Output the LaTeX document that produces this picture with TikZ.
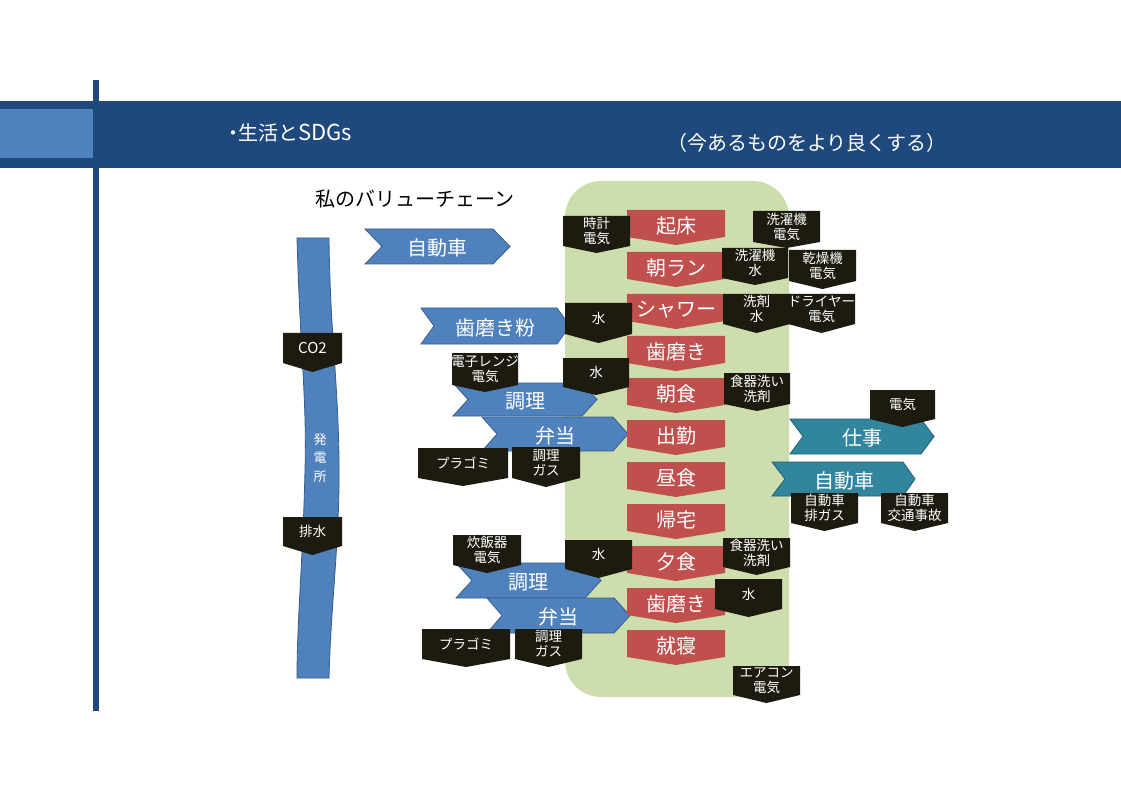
\documentclass[tikz,border=0pt]{standalone}
\usepackage{fontspec}
\setmainfont{Noto Sans CJK JP}
\definecolor{hdrblue}{HTML}{1F497D}
\definecolor{ltblue}{HTML}{4F81BD}
\definecolor{bordblue}{HTML}{385D8A}
\definecolor{bggreen}{HTML}{CEDDAE}
\definecolor{sdred}{HTML}{C0504D}
\definecolor{sdteal}{HTML}{31859C}
\definecolor{bordteal}{HTML}{215F70}
\definecolor{sdblack}{HTML}{1D1B10}
\tikzset{
  redshape/.style={fill=sdred},
  redtext/.style={text=white, inner sep=0, yshift=-2pt, font=\fontsize{20}{24}\selectfont},
  blkshape/.style={fill=sdblack},
  blktext/.style={text=white, inner sep=0, align=center, font=\fontsize{13.5}{15}\selectfont},
  blueshape/.style={fill=ltblue, draw=bordblue, line width=0.8pt},
  bluetext/.style={text=white, inner sep=0, yshift=-1.5pt, font=\fontsize{20}{24}\selectfont},
  tealshape/.style={fill=sdteal, draw=bordteal, line width=0.8pt},
  tealtext/.style={text=white, inner sep=0, yshift=-1.5pt, font=\fontsize{20}{24}\selectfont},
  hdrtext/.style={text=white, inner sep=0, anchor=west, font=\fontsize{20}{24}\selectfont},
}
% pentagon pointing down: name, x1, ytop, x2, yside, ytip, kind, text
\newcommand{\pdn}[8]{%
  \path[#7shape] (#2,#3) -- (#4,#3) -- (#4,#5) -- ({(#2+#4)/2},#6) -- (#2,#5) -- cycle;
  \node[#7text] (#1) at ({(#2+#4)/2},{(#3+#5)/2}) {#8};}
% chevron pointing right: name, xleft, xnotch, xflat, xtip, ytop, ybot, kind, text
\newcommand{\chev}[9]{%
  \path[#8shape] (#2,#6) -- (#4,#6) -- (#5,{(#6+#7)/2}) -- (#4,#7) -- (#2,#7) -- (#3,{(#6+#7)/2}) -- cycle;
  \node[#8text] (#1) at ({(#3+#4)/2},{(#6+#7)/2}) {#9};}
\begin{document}
\begin{tikzpicture}[x=1pt,y=-1pt]
\useasboundingbox[fill=white] (0,0) rectangle (1121,791);
% header
\fill[hdrblue] (0,101) rectangle (1121,168);
\fill[ltblue] (0,109) rectangle (93,158);
\fill[hdrblue] (93,80) rectangle (99,711);
\node[hdrtext] (title) at (229,133) {\hbox to 9pt{\hss ・\hss}生活と{\fontsize{22}{24}\selectfont SDGs}};
\node[hdrtext] (subtitle) at (667,143) {（今あるものをより良くする）};
\node[inner sep=0, font=\fontsize{20}{24}\selectfont] (vc) at (415,199) {私のバリューチェーン};
% green panel
\fill[bggreen, rounded corners=36pt] (565,181) rectangle (789,697);
% power plant band
\path[blueshape] (297,238) .. controls (300,350) and (307,400) .. (305,470)
  .. controls (303,560) and (297,620) .. (297,678) -- (329,678)
  .. controls (331,600) and (340,540) .. (339,460)
  .. controls (338,380) and (330,330) .. (329,238) -- cycle;
\node[text=white, inner sep=0, align=center, font=\fontsize{13}{18.5}\selectfont] (plant) at (320,458) {発\\電\\所};
% blue chevrons
\chev{c1}{365}{382}{493}{510}{229}{264}{blue}{自動車}
\chev{c2}{421}{434}{557}{570}{308}{344}{blue}{歯磨き粉}
\chev{c3}{453}{468}{582}{597}{383}{416}{blue}{調理}
\chev{c4}{482}{497}{613}{628}{417}{451}{blue}{弁当}
\chev{c5}{456}{472}{585}{601}{563}{598}{blue}{調理}
\chev{c6}{487}{502}{614}{630}{598}{633}{blue}{弁当}
% red daily column
\pdn{r1}{627}{210}{725}{237}{245}{red}{起床}
\pdn{r2}{627}{252}{725}{279}{287}{red}{朝ラン}
\pdn{r3}{627}{294}{725}{321}{329}{red}{シャワー}
\pdn{r4}{627}{336}{725}{363}{371}{red}{歯磨き}
\pdn{r5}{627}{378}{725}{405}{413}{red}{朝食}
\pdn{r6}{627}{420}{725}{447}{455}{red}{出勤}
\pdn{r7}{627}{462}{725}{489}{497}{red}{昼食}
\pdn{r8}{627}{504}{725}{531}{539}{red}{帰宅}
\pdn{r9}{627}{546}{725}{573}{581}{red}{夕食}
\pdn{r10}{627}{588}{725}{615}{623}{red}{歯磨き}
\pdn{r11}{627}{630}{725}{657}{665}{red}{就寝}
% teal chevrons
\chev{t1}{790}{803}{921}{934}{419}{454}{teal}{仕事}
\chev{t2}{772}{785}{903}{915}{462}{496}{teal}{自動車}
% black callouts
\pdn{b1}{563}{216}{630}{246}{253}{blk}{時計\\電気}
\pdn{b2}{753}{211}{820}{242}{248}{blk}{洗濯機\\電気}
\pdn{b3}{722}{248}{788}{278}{285}{blk}{洗濯機\\水}
\pdn{b4}{789}{250}{856}{281}{289}{blk}{乾燥機\\電気}
\pdn{b5}{723}{294}{790}{324}{333}{blk}{洗剤\\水}
\pdn{b6}{788}{294}{855}{324}{333}{blk}{ドライヤー\\電気}
\pdn{b7}{565}{303}{632}{334}{343}{blk}{水}
\pdn{b8}{452}{353}{518}{385}{392}{blk}{電子レンジ\\電気}
\pdn{b9}{563}{358}{629}{387}{395}{blk}{水}
\pdn{b10}{418}{448}{508}{478}{486}{blk}{プラゴミ}
\pdn{b11}{512}{447}{580}{478}{487}{blk}{調理\\ガス}
\pdn{b12}{724}{373}{790}{404}{411}{blk}{食器洗い\\洗剤}
\pdn{b13}{870}{390}{935}{419}{427}{blk}{電気}
\pdn{b14}{791}{493}{858}{523}{531}{blk}{自動車\\排ガス}
\pdn{b15}{881}{493}{948}{523}{531}{blk}{自動車\\交通事故}
\pdn{b16}{453}{535}{521}{565}{573}{blk}{炊飯器\\電気}
\pdn{b17}{565}{540}{632}{569}{578}{blk}{水}
\pdn{b18}{422}{629}{510}{659}{667}{blk}{プラゴミ}
\pdn{b19}{515}{629}{582}{659}{667}{blk}{調理\\ガス}
\pdn{b20}{723}{538}{790}{567}{575}{blk}{食器洗い\\洗剤}
\pdn{b21}{715}{579}{782}{609}{617}{blk}{水}
\pdn{b22}{733}{666}{800}{695}{703}{blk}{エアコン\\電気}
\pdn{b23}{283}{333}{342}{363}{372}{blk}{{\fontsize{15}{16}\selectfont CO2}}
\pdn{b24}{283}{517}{342}{546}{555}{blk}{排水}
\end{tikzpicture}
\end{document}
